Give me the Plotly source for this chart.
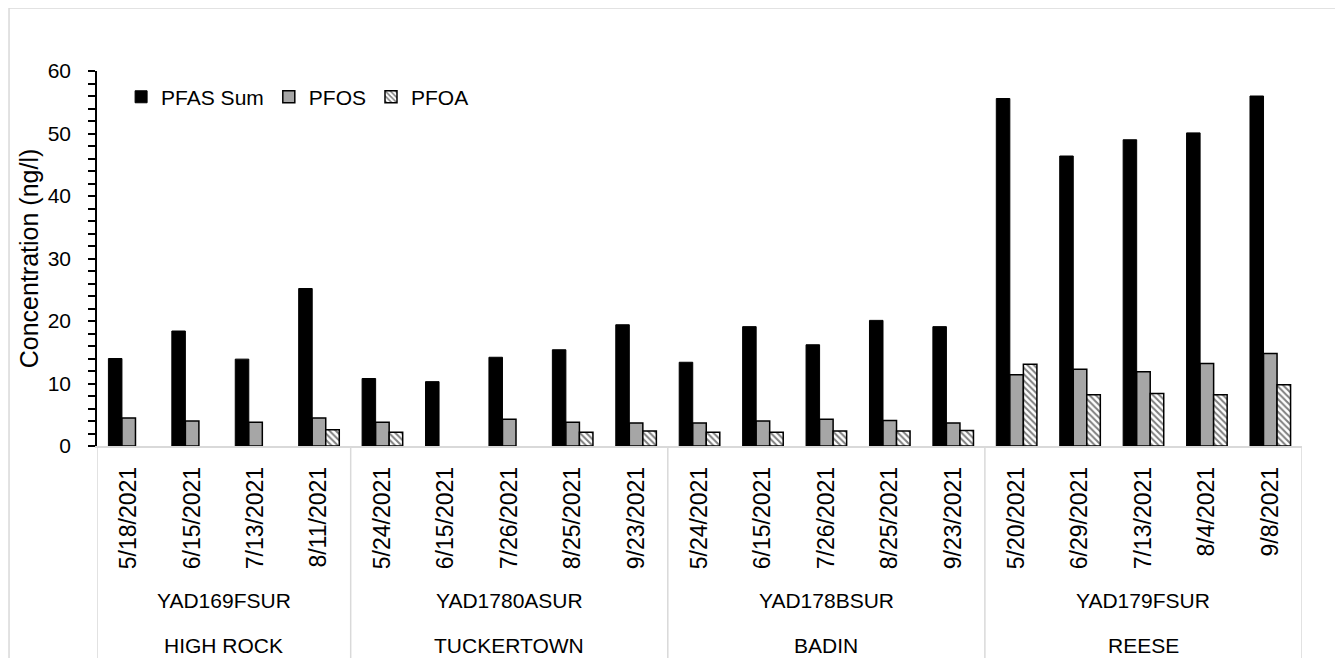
import plotly.graph_objects as go

# ---- data ----
locations = ["HIGH ROCK", "TUCKERTOWN", "BADIN", "REESE"]
site_codes = ["YAD169FSUR", "YAD1780ASUR", "YAD178BSUR", "YAD179FSUR"]
dates_high_rock = ["5/18/2021", "6/15/2021", "7/13/2021", "8/11/2021"]
dates_tuckertown = ["5/24/2021", "6/15/2021", "7/26/2021", "8/25/2021", "9/23/2021"]
dates_badin = ["5/24/2021", "6/15/2021", "7/26/2021", "8/25/2021", "9/23/2021"]
dates_reese = ["5/20/2021", "6/29/2021", "7/13/2021", "8/4/2021", "9/8/2021"]

pfas_sum = [14.0, 18.4, 13.9, 25.2,
            10.8, 10.3, 14.2, 15.4, 19.4,
            13.4, 19.1, 16.2, 20.1, 19.1,
            55.6, 46.4, 49.0, 50.1, 56.0]
pfos = [4.5, 4.0, 3.8, 4.5,
        3.8, None, 4.3, 3.8, 3.7,
        3.7, 4.0, 4.3, 4.1, 3.7,
        11.4, 12.3, 11.9, 13.2, 14.8]
pfoa = [None, None, None, 2.6,
        2.2, None, None, 2.2, 2.4,
        2.2, 2.2, 2.4, 2.4, 2.5,
        13.1, 8.2, 8.4, 8.2, 9.8]

# ---- derived ----
date_groups = [dates_high_rock, dates_tuckertown, dates_badin, dates_reese]
dates = [d for g in date_groups for d in g]
xpos = list(range(len(dates)))
group_sizes = [len(g) for g in date_groups]

FONT = "Liberation Sans, Arial, sans-serif"
GRID = "#D9D9D9"

fig = go.Figure()
fig.add_trace(go.Bar(x=xpos, y=pfas_sum, name="PFAS Sum",
                     marker=dict(color="black", line=dict(color="black", width=1))))
fig.add_trace(go.Bar(x=xpos, y=pfos, name="PFOS",
                     marker=dict(color="#A6A6A6", line=dict(color="black", width=1.5))))
fig.add_trace(go.Bar(x=xpos, y=pfoa, name="PFOA",
                     marker=dict(color="white", line=dict(color="black", width=1.5),
                                 pattern=dict(shape="\\", fgcolor="black", bgcolor="white",
                                              size=4.5, solidity=0.45))))

shapes = []
annotations = []
bottom = -0.62
start = 0
bounds = [-0.5]
for i, n in enumerate(group_sizes):
    center = start + (n - 1) / 2
    annotations.append(dict(x=center, y=-0.411, xref="x", yref="paper", text=site_codes[i],
                            showarrow=False, font=dict(size=21, family=FONT, color="black"),
                            xanchor="center", yanchor="middle"))
    annotations.append(dict(x=center, y=-0.531, xref="x", yref="paper", text=locations[i],
                            showarrow=False, font=dict(size=21, family=FONT, color="black"),
                            xanchor="center", yanchor="middle"))
    start += n
    bounds.append(start - 0.5)

for b in bounds:
    shapes.append(dict(type="line", xref="x", yref="paper", x0=b, x1=b, y0=0, y1=bottom,
                       line=dict(color=GRID, width=1.5)))

# outer chart border (top and left visible)
shapes.append(dict(type="line", xref="paper", yref="paper", x0=-0.073, x1=1.2, y0=1.168, y1=1.168,
                   line=dict(color=GRID, width=1.5)))
shapes.append(dict(type="line", xref="paper", yref="paper", x0=-0.073, x1=-0.073, y0=1.168, y1=-0.7,
                   line=dict(color=GRID, width=1.5)))

# page body has an 8px margin, so the figure is shrunk by 8px and margins compensated
fig.update_layout(
    width=1335, height=650,
    margin=dict(l=89, r=41, t=63, b=212),
    paper_bgcolor="white", plot_bgcolor="white",
    barmode="group", bargap=0.36, bargroupgap=0,
    font=dict(family=FONT, color="black", size=21),
    showlegend=True,
    legend=dict(orientation="h", x=0.02, y=0.985, xanchor="left", yanchor="top",
                font=dict(size=21, family=FONT, color="black"),
                bgcolor="rgba(0,0,0,0)", itemwidth=30, traceorder="normal"),
    shapes=shapes,
    annotations=annotations,
    xaxis=dict(range=[-0.5, len(dates) - 0.5], tickmode="array", tickvals=xpos, ticktext=dates,
               tickangle=-90, ticks="", showgrid=False, zeroline=False,
               showline=True, linecolor=GRID, linewidth=1.5,
               tickfont=dict(size=23, family=FONT, color="black"), ticklabelstandoff=10),
    yaxis=dict(range=[0, 60], dtick=10, ticks="outside", ticklen=7, tickwidth=1.5, tickcolor="black",
               minor=dict(dtick=2, ticks="outside", ticklen=7, tickwidth=1.5, tickcolor="black"),
               showgrid=False, zeroline=False, showline=True, linecolor="black", linewidth=1.5,
               tickfont=dict(size=21, family=FONT, color="black"), ticklabelstandoff=13,
               title=dict(text="Concentration (ng/l)", font=dict(size=25, family=FONT, color="black"),
                          standoff=2)),
)

fig.write_html("out.html")
